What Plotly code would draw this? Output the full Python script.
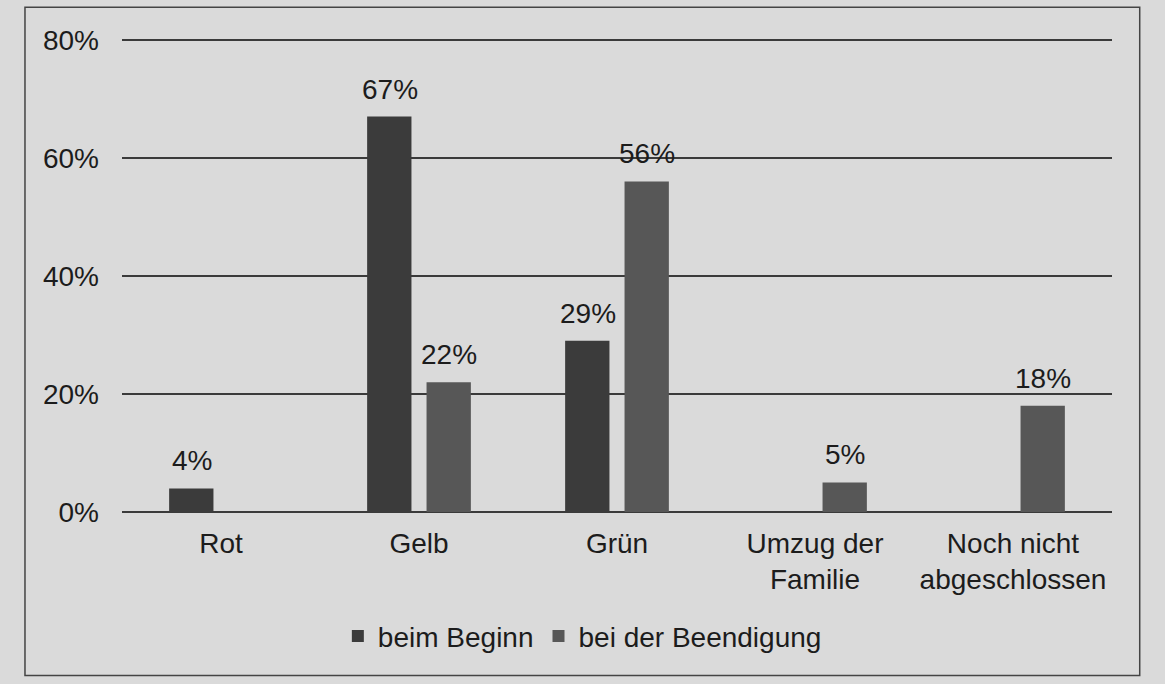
import plotly.graph_objects as go

categories = ["Rot", "Gelb", "Grün", "Umzug der<br>Familie", "Noch nicht<br>abgeschlossen"]
beginn = [4, 67, 29, None, None]
beendigung = [None, 22, 56, 5, 18]
y_ticks = [0, 20, 40, 60, 80]
y_tick_labels = ["0%", "20%", "40%", "60%", "80%"]

FONT = "Liberation Sans, Arial, sans-serif"
TXT = "#1c1c1c"
FS = 28
BG = "#dadada"

fig = go.Figure()
fig.add_trace(go.Bar(name="beim Beginn", x=categories, y=beginn, marker_color="#3b3b3b",
                     marker_line_width=0))
fig.add_trace(go.Bar(name="bei der Beendigung", x=categories, y=beendigung, marker_color="#575757",
                     marker_line_width=0))

annotations = []
for vals, shift in ((beginn, -29.5), (beendigung, 29.5)):
    for c, v in zip(categories, vals):
        if v is None:
            continue
        annotations.append(dict(x=c, y=v, xref="x", yref="y", text=f"{v}%", showarrow=False,
                                xanchor="center", yanchor="bottom", xshift=shift, yshift=10,
                                font=dict(size=FS, color=TXT, family=FONT)))

fig.update_layout(
    width=1165, height=684,
    margin=dict(l=122, r=53, t=38, b=172),
    paper_bgcolor=BG, plot_bgcolor=BG,
    font=dict(family=FONT, size=FS, color=TXT),
    barmode="group", bargap=0.40, bargroupgap=0.254,
    showlegend=True,
    legend=dict(orientation="h", x=0.465, xanchor="center", y=-0.262, yanchor="middle",
                font=dict(size=FS, color=TXT), bgcolor="rgba(0,0,0,0)",
                itemwidth=30),
    xaxis=dict(showgrid=False, showline=False, ticks="", tickfont=dict(size=FS),
               ticklabelstandoff=12, automargin=False),
    yaxis=dict(range=[0, 80.3], tickvals=y_ticks, ticktext=y_tick_labels,
               showgrid=True, gridcolor="#3a3a3a", gridwidth=1.5,
               zeroline=True, zerolinecolor="#3a3a3a", zerolinewidth=1.5,
               showline=False, ticks="", ticklabelstandoff=22, tickfont=dict(size=FS),
               automargin=False),
    annotations=annotations,
    shapes=[dict(type="rect", xref="paper", yref="paper", x0=-0.098, x1=1.028,
                 y0=-0.345, y1=1.065, line=dict(color="#444444", width=1.5), layer="below")],
)

fig.write_html("out.html", config={"displayModeBar": False},
               post_script="document.body.style.margin='0';document.body.style.background='%s';" % BG)
